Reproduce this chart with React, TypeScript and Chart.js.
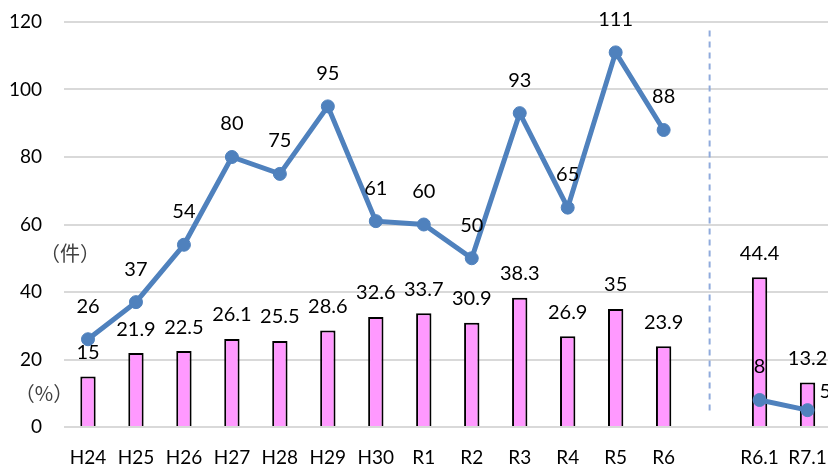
import React, { useEffect, useRef } from "react";
import { Chart, registerables } from "chart.js";

Chart.register(...registerables);

const categories = ["H24", "H25", "H26", "H27", "H28", "H29", "H30", "R1", "R2", "R3", "R4", "R5", "R6", "", "R6.1", "R7.1"];
const rateValues: (number | null)[] = [15, 21.9, 22.5, 26.1, 25.5, 28.6, 32.6, 33.7, 30.9, 38.3, 26.9, 35, 23.9, null, 44.4, 13.2];
const countValues: (number | null)[] = [26, 37, 54, 80, 75, 95, 61, 60, 50, 93, 65, 111, 88, null, 8, 5];
const yTicks = [0, 20, 40, 60, 80, 100, 120];
const countUnit = "（件）";
const rateUnit = "（%）";

const FONT = "Lato, 'Open Sans', sans-serif";

const labelPlugin = {
  id: "labels",
  afterDatasetsDraw(chart: any) {
    const ctx = chart.ctx;
    const x = chart.scales.x;
    const y = chart.scales.y;
    ctx.save();
    // dashed separator
    ctx.strokeStyle = "#8FAADC";
    ctx.lineWidth = 2;
    ctx.setLineDash([6, 5]);
    const sx = x.getPixelForValue(13) - 2;
    ctx.beginPath();
    ctx.moveTo(sx, y.getPixelForValue(117.5));
    ctx.lineTo(sx, y.getPixelForValue(4));
    ctx.stroke();
    ctx.setLineDash([]);

    ctx.fillStyle = "#000";
    ctx.font = `20px ${FONT}`;
    ctx.textAlign = "center";
    ctx.textBaseline = "middle";
    // bar labels
    const barMeta = chart.getDatasetMeta(0);
    barMeta.data.forEach((el: any, i: number) => {
      const v = rateValues[i];
      if (v == null) return;
      ctx.fillText(String(v), el.x, el.y - 24);
    });
    // line labels
    const lineMeta = chart.getDatasetMeta(1);
    lineMeta.data.forEach((el: any, i: number) => {
      const v = countValues[i];
      if (v == null) return;
      if (i === countValues.length - 1) {
        ctx.textAlign = "left";
        ctx.fillText(String(v), el.x + 12, el.y - 19);
        ctx.textAlign = "center";
      } else {
        ctx.fillText(String(v), el.x, el.y - 33);
      }
    });
    // unit annotations
    ctx.fillStyle = "#404040";
    ctx.font = `20px 'Noto Sans CJK JP', sans-serif`;
    ctx.fillText(countUnit, 70, 253);
    ctx.fillText(rateUnit, 44, 393);
    ctx.restore();
  },
};

export default function App() {
  const ref = useRef<HTMLCanvasElement | null>(null);
  useEffect(() => {
    if (!ref.current) return;
    const chart = new Chart(ref.current, {
      data: {
        labels: categories,
        datasets: [
          {
            type: "bar",
            data: rateValues,
            backgroundColor: "#FF99FF",
            borderColor: "#000000",
            borderWidth: 2,
            borderSkipped: "bottom",
            categoryPercentage: 1,
            barPercentage: 0.32,
            order: 2,
          },
          {
            type: "line",
            data: countValues,
            borderColor: "#4F81BD",
            backgroundColor: "#4F81BD",
            borderWidth: 5,
            pointRadius: 6.5,
            pointBorderWidth: 1,
            pointBackgroundColor: "#4F81BD",
            pointBorderColor: "#4F81BD",
            spanGaps: false,
            tension: 0,
            order: 1,
          },
        ],
      } as any,
      options: {
        animation: false,
        responsive: false,
        maintainAspectRatio: false,
        layout: { padding: { top: 22, right: 0, left: 0, bottom: 0 } },
        plugins: { legend: { display: false }, tooltip: { enabled: false } },
        scales: {
          x: {
            offset: true,
            grid: { display: false, drawTicks: false },
            border: { display: false },
            ticks: { color: "#000", font: { size: 19, family: FONT }, padding: 19, autoSkip: false, maxRotation: 0 },
            afterFit: (s: any) => { s.height = 42; },
          },
          y: {
            min: 0,
            max: 120,
            afterBuildTicks: (s: any) => { s.ticks = yTicks.map((v) => ({ value: v })); },
            grid: { color: "#D9D9D9", lineWidth: 2, drawTicks: false },
            border: { display: false },
            ticks: { color: "#000", font: { size: 19, family: FONT }, padding: 22 },
            afterFit: (s: any) => { s.width = 64; s.paddingTop = 0; s.paddingBottom = 0; },
          },
        },
      } as any,
      plugins: [labelPlugin],
    });
    return () => chart.destroy();
  }, []);
  return (
    <div style={{ position: "fixed", left: 0, top: 0, width: 828, height: 469, overflow: "hidden", background: "#fff" }}>
      <canvas ref={ref} width={846} height={469} style={{ display: "block" }} />
    </div>
  );
}
